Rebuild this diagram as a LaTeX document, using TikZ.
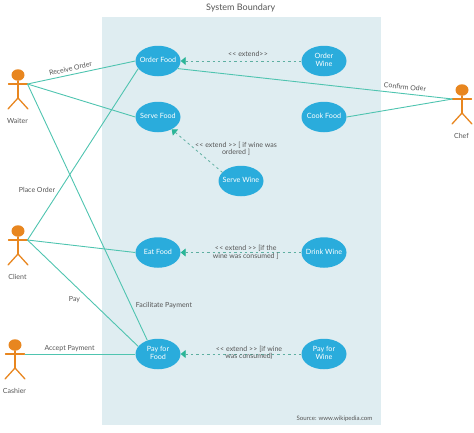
\documentclass[tikz,border=0pt]{standalone}
\usepackage{fontspec}
\setmainfont{Lato}
\usetikzlibrary{shapes.geometric,arrows.meta}
\definecolor{bound}{HTML}{DFEDF1}
\definecolor{usecase}{HTML}{2AACDC}
\definecolor{conn}{HTML}{4FC4B0}
\definecolor{tipc}{HTML}{2BB597}
\definecolor{actorc}{HTML}{E8861F}
\definecolor{txt}{HTML}{555555}
\newcommand{\ucl}[1]{\raisebox{-0.5pt}{\makebox[10pt][c]{\begin{tabular}{@{}c@{}}#1\end{tabular}}}}
\newcommand{\opn}{{<}\kern0.3pt{<}}
\newcommand{\cls}{{>}\kern0.3pt{>}}
\tikzset{
  uc/.style={ellipse,fill=usecase,minimum width=45pt,minimum height=30.5pt,inner sep=0pt,text=white,font=\fontsize{7.2}{7.5}\selectfont},
  lbl/.style={text=txt,font=\fontsize{7}{7.4}\selectfont,align=center,inner sep=0pt},
  assoc/.style={draw=conn,line width=0.9pt},
  ext/.style={draw=conn!70!gray,line width=0.8pt,dash pattern=on 2.4pt off 3pt,{Triangle[length=5pt,width=8pt,fill=tipc,color=tipc]}-},
  limb/.style={draw=actorc,line width=1.3pt,line cap=round},
  headc/.style={ellipse,fill=actorc,inner sep=0pt,minimum width=13pt,minimum height=11.5pt}
}
\newcommand{\actor}[4]{% name, x, y(arm), label
  \node[headc] (#1head) at (#2,#3-9) {};
  \coordinate (#1hand) at (#2+9.5,#3);
  \coordinate (#1handl) at (#2-9.5,#3);
  \coordinate (#1hip) at (#2,#3+14);
  \coordinate (#1ll) at (#2-10,#3+25);
  \coordinate (#1lr) at (#2+10,#3+25);
  \draw[limb] (#1head) -- (#1hip);
  \draw[limb] (#1handl) -- (#1hand);
  \draw[limb] (#1ll) -- (#1hip) -- (#1lr);
  \node[lbl] (#1label) at (#2-0.5,#3+37) {#4};
}
\begin{document}
\begin{tikzpicture}[x=1pt,y=-1pt]
\useasboundingbox (0,0) rectangle (474,432);
\fill[bound] (101.5,17) rectangle (380.5,425);
\node[lbl,font=\fontsize{9}{10}\selectfont] (title) at (240.7,8) {System Boundary};
\node[lbl,font=\fontsize{6.1}{7}\selectfont] (source) at (334.5,419) {Source: www.wikipedia.com};

\node[uc] (order) at (158,61) {\ucl{Order Food}};
\node[uc] (serve) at (158,117) {\ucl{Serve Food}};
\node[uc] (orderw) at (324,61) {\ucl{Order\\Wine}};
\node[uc] (cook) at (324,117) {\ucl{Cook Food}};
\node[uc] (servew) at (241,181) {\ucl{Serve Wine}};
\node[uc] (eat) at (158,252.5) {\ucl{Eat Food}};
\node[uc] (drink) at (324,252.5) {\ucl{Drink Wine}};
\node[uc] (pay) at (158,354) {\ucl{Pay for\\Food}};
\node[uc] (payw) at (324,354) {\ucl{Pay for\\Wine}};

\actor{waiter}{18}{84}{Waiter}
\actor{client}{18}{240}{Client}
\actor{cashier}{15}{354}{Cashier}
\actor{chef}{462}{99}{Chef}

\draw[assoc] (waiterhand) -- (order.west);
\draw[assoc] (waiterhand) -- (serve.west);
\draw[assoc] (waiterhand) -- (pay.128);
\draw[assoc] (clienthand) -- (order.201);
\draw[assoc] (clienthand) -- (eat.west);
\draw[assoc] (clienthand) -- (pay.159);
\draw[assoc] (cashierhand) -- (pay.west);
\draw[assoc] (chefhandl) -- (order.-21);
\draw[assoc] (chefhandl) -- (cook.east);

\draw[ext] (order.east) -- (orderw.west);
\draw[ext] (serve.-42) -- (servew.155);
\draw[ext] (eat.east) -- (drink.west);
\draw[ext] (pay.east) -- (payw.west);

\node[lbl,rotate=13] (l1) at (70.5,68.5) {Receive Order};
\node[lbl,rotate=-5.5] (l2) at (405,87) {Confirm Oder};
\node[lbl] (l3) at (37,190.3) {Place Order};
\node[lbl] (l4) at (74.5,299.3) {Pay};
\node[lbl] (l5) at (164,305.7) {Facilitate Payment};
\node[lbl] (l6) at (69.5,348.9) {Accept Payment};
\node[lbl] (e1) at (248,54) {\opn{} extend\cls};
\node[lbl] (e2) at (236,148.7) {\opn{} extend \cls{} [ if wine was\\ordered ]};
\node[lbl] (e3) at (245.7,252.3) {\opn{} extend \cls{} [if the\\wine was consumed ]};
\node[lbl] (e4) at (249,353) {\opn{} extend \cls{} [if wine\\was consumed)};
\end{tikzpicture}
\end{document}
